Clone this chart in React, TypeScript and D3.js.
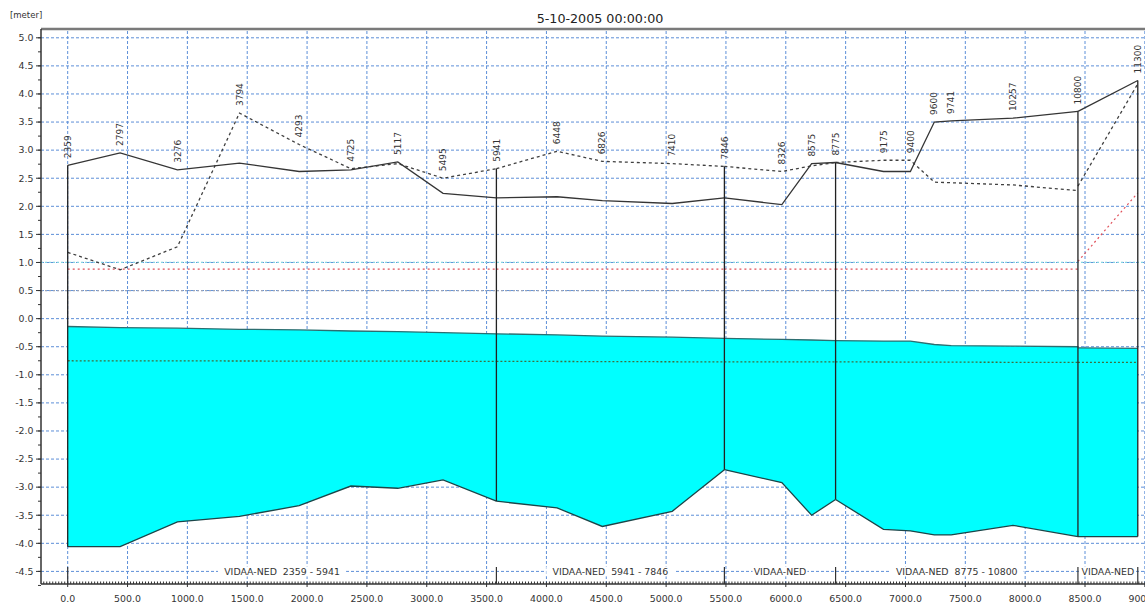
import React from 'react';
import * as d3 from 'd3';

// Longitudinal profile along VIDAA-NED, chainage in metres, levels in metres.
const titleText = '5-10-2005 00:00:00';
const unitText = '[meter]';

const branchName = ['VIDAA-NED', 'VIDAA-NED', 'VIDAA-NED', 'VIDAA-NED', 'VIDAA-NED'];
const branchFrom = [2359, 5941, 7846, 8775, 10800];
const branchTo = [5941, 7846, 8775, 10800, 11300];

// Stations per branch (boundary chainages repeated for each branch they belong to)
const stationChainage = [
  2359, 2797, 3276, 3794, 4293, 4725, 5117, 5495, 5941,
  5941, 6448, 6826, 7410, 7846,
  7846, 8326, 8575, 8775,
  8775, 9175, 9400, 9600, 9741, 10257, 10800,
  10800, 11300,
];
const stationBranch = [
  0, 0, 0, 0, 0, 0, 0, 0, 0,
  1, 1, 1, 1, 1,
  2, 2, 2, 2,
  3, 3, 3, 3, 3, 3, 3,
  4, 4,
];

// Solid black line (left bank)
const solidLevel = [
  2.73, 2.95, 2.65, 2.77, 2.62, 2.65, 2.79, 2.23, 2.15,
  2.15, 2.17, 2.10, 2.05, 2.15,
  2.15, 2.03, 2.76, 2.78,
  2.78, 2.62, 2.62, 3.50, 3.52, 3.57, 3.69,
  3.69, 4.24,
];
// Dashed black line (right bank)
const dashedLevel = [
  1.18, 0.87, 1.28, 3.66, 3.10, 2.67, 2.76, 2.50, 2.67,
  2.67, 2.98, 2.80, 2.76, 2.71,
  2.71, 2.62, 2.72, 2.78,
  2.78, 2.82, 2.82, 2.43, 2.42, 2.38, 2.28,
  2.36, 4.18,
];
// Red dotted line
const redLevel = [
  0.88, 0.88, 0.88, 0.88, 0.88, 0.88, 0.88, 0.88, 0.88,
  0.88, 0.88, 0.88, 0.88, 0.88,
  0.88, 0.88, 0.88, 0.88,
  0.88, 0.88, 0.88, 0.88, 0.88, 0.88, 0.88,
  1.02, 2.24,
];
// Water surface
const surfaceLevel = [
  -0.14, -0.16, -0.17, -0.19, -0.20, -0.22, -0.23, -0.25, -0.27,
  -0.27, -0.29, -0.31, -0.33, -0.35,
  -0.35, -0.37, -0.38, -0.39,
  -0.39, -0.40, -0.40, -0.46, -0.48, -0.49, -0.50,
  -0.52, -0.53,
];
// River bed
const bedLevel = [
  -4.06, -4.06, -3.62, -3.52, -3.33, -2.98, -3.02, -2.87, -3.25,
  -3.25, -3.37, -3.70, -3.43, -2.69,
  -2.69, -2.92, -3.50, -3.22,
  -3.22, -3.75, -3.78, -3.85, -3.85, -3.68, -3.88,
  -3.88, -3.88,
];

// Green dotted reference level, start and end of each branch
const greenLevelStart = [-0.75, -0.76, -0.77, -0.77, -0.78];
const greenLevelEnd = [-0.76, -0.77, -0.77, -0.78, -0.78];
const cyanRefLevel = 1.0;
const grayRefLevel = 0.5;

const xTickValues = [0, 500, 1000, 1500, 2000, 2500, 3000, 3500, 4000, 4500, 5000, 5500, 6000, 6500, 7000, 7500, 8000, 8500, 9000];
const yTickValues = [-4.5, -4.0, -3.5, -3.0, -2.5, -2.0, -1.5, -1.0, -0.5, 0.0, 0.5, 1.0, 1.5, 2.0, 2.5, 3.0, 3.5, 4.0, 4.5, 5.0];

const W = 1145;
const H = 605;
const plotLeft = 41;
const plotTop = 29;
const plotBottom = 584;
const plotRight = 1160;
const FONT = 'DejaVu Sans, sans-serif';

type Station = {
  ch: number;
  b: number;
  dist: number;
  solid: number;
  dashed: number;
  red: number;
  surface: number;
  bed: number;
};

export default function App() {
  const x = d3.scaleLinear().domain([0, 8500]).range([67.7, 1085]);
  const y = d3.scaleLinear().domain([-4.5, 5.0]).range([571.4, 37.8]);

  const branchOffset: number[] = [];
  let acc = 0;
  branchFrom.forEach((f, i) => {
    branchOffset.push(acc);
    acc += branchTo[i] - f;
  });

  const stations: Station[] = stationChainage.map((ch, i) => {
    const b = stationBranch[i];
    return {
      ch,
      b,
      dist: branchOffset[b] + ch - branchFrom[b],
      solid: solidLevel[i],
      dashed: dashedLevel[i],
      red: redLevel[i],
      surface: surfaceLevel[i],
      bed: bedLevel[i],
    };
  });

  const byBranch = branchFrom.map((_, b) => stations.filter((s) => s.b === b));

  const lineOf = (key: 'solid' | 'dashed' | 'red') =>
    d3.line<Station>().x((d) => x(d.dist)).y((d) => y(d[key]));
  const area = d3
    .area<Station>()
    .x((d) => x(d.dist))
    .y0((d) => y(d.bed))
    .y1((d) => y(d.surface));
  const surfLine = d3.line<Station>().x((d) => x(d.dist)).y((d) => y(d.surface));
  const bedLine = d3.line<Station>().x((d) => x(d.dist)).y((d) => y(d.bed));

  // unique chainage labels
  const labelStations = stations.filter((s, i) => i === 0 || stationChainage[i - 1] !== s.ch);

  // branch boundaries (distance)
  const boundaries = [0, ...branchFrom.map((f, i) => branchOffset[i] + branchTo[i] - f)];
  const boundaryTop = boundaries.map((d) => {
    const ss = stations.filter((s) => Math.abs(s.dist - d) < 0.5);
    return {
      top: d3.max(ss, (s) => Math.max(s.solid, s.dashed)) as number,
      bed: d3.min(ss, (s) => s.bed) as number,
    };
  });

  const xMinor = d3.range(-200, 9200, 25);
  const yMinor = d3.range(-4.75, 5.1, 0.25);

  const tickFont = 9.4;

  return (
    <svg
      width={W}
      height={H}
      style={{ position: 'absolute', left: 0, top: 0, background: '#fff' }}
      fontFamily={FONT}
    >
      <rect x={0} y={0} width={W} height={H} fill="#fff" />

      {/* grid */}
      <g stroke="#5d8fd8" strokeWidth={1} strokeDasharray="3,2">
        {xTickValues.map((v) => (
          <line key={'gx' + v} x1={x(v)} x2={x(v)} y1={plotTop + 2} y2={plotBottom} />
        ))}
        {yTickValues.map((v) => (
          <line key={'gy' + v} x1={plotLeft} x2={plotRight} y1={y(v)} y2={y(v)} />
        ))}
      </g>

      {/* reference levels */}
      <line x1={plotLeft} x2={plotRight} y1={y(cyanRefLevel)} y2={y(cyanRefLevel)} stroke="#86d6e2" strokeWidth={1.2} strokeDasharray="2,2" />
      <line x1={plotLeft} x2={plotRight} y1={y(grayRefLevel)} y2={y(grayRefLevel)} stroke="#9aa3b8" strokeWidth={1.2} strokeDasharray="2,2" />

      {/* water body */}
      {byBranch.map((ss, b) => (
        <g key={'w' + b}>
          <path d={area(ss) || ''} fill="#00ffff" />
          <path d={surfLine(ss) || ''} fill="none" stroke="#2c6e70" strokeWidth={1.3} />
          <path d={bedLine(ss) || ''} fill="none" stroke="#1c4548" strokeWidth={1.3} />
        </g>
      ))}

      {/* green dotted level */}
      {byBranch.map((ss, b) => (
        <line
          key={'g' + b}
          x1={x(ss[0].dist)}
          x2={x(ss[ss.length - 1].dist)}
          y1={y(greenLevelStart[b])}
          y2={y(greenLevelEnd[b])}
          stroke="#3d7040"
          strokeWidth={1.3}
          strokeDasharray="2,2"
        />
      ))}

      {/* red dotted */}
      {byBranch.map((ss, b) => (
        <path key={'r' + b} d={lineOf('red')(ss) || ''} fill="none" stroke="#e0505a" strokeWidth={1.2} strokeDasharray="2,3" />
      ))}

      {/* banks */}
      {byBranch.map((ss, b) => (
        <path key={'d' + b} d={lineOf('dashed')(ss) || ''} fill="none" stroke="#404040" strokeWidth={1.3} strokeDasharray="3,3" />
      ))}
      {byBranch.map((ss, b) => (
        <path key={'s' + b} d={lineOf('solid')(ss) || ''} fill="none" stroke="#353535" strokeWidth={1.3} />
      ))}

      {/* branch boundary verticals */}
      {boundaries.map((d, i) => (
        <line key={'v' + i} x1={x(d)} x2={x(d)} y1={y(boundaryTop[i].top)} y2={y(boundaryTop[i].bed)} stroke="#222" strokeWidth={1.3} />
      ))}

      {/* chainage labels */}
      {labelStations.map((s, i) => {
        const top = Math.max(
          ...stations.filter((t) => t.ch === s.ch).map((t) => Math.max(t.solid, t.dashed))
        );
        return (
          <text
            key={'c' + i}
            transform={`translate(${x(s.dist)},${y(top) - 7}) rotate(-90)`}
            dy="0.35em"
            fontSize={9}
            fill="#333"
          >
            {String(s.ch)}
          </text>
        );
      })}

      {/* frame */}
      <line x1={plotLeft} x2={plotRight} y1={plotTop} y2={plotTop} stroke="#7a7a7a" strokeWidth={2.5} />
      <line x1={plotLeft} x2={plotLeft} y1={plotTop} y2={plotBottom} stroke="#333" strokeWidth={1.5} />
      <line x1={plotLeft} x2={plotRight} y1={plotBottom} y2={plotBottom} stroke="#333" strokeWidth={1.5} />

      {/* y ticks */}
      {yMinor.map((v, i) => (
        <line key={'ym' + i} x1={plotLeft - 3} x2={plotLeft} y1={y(v)} y2={y(v)} stroke="#333" strokeWidth={1} />
      ))}
      {yTickValues.map((v) => (
        <g key={'yt' + v}>
          <line x1={plotLeft - 5} x2={plotLeft} y1={y(v)} y2={y(v)} stroke="#333" strokeWidth={1} />
          <text x={33.5} y={y(v)} dy="0.35em" textAnchor="end" fontSize={tickFont} fill="#333">
            {v.toFixed(1)}
          </text>
        </g>
      ))}

      {/* x ticks */}
      {xMinor.filter((v) => x(v) > plotLeft).map((v, i) => (
        <line key={'xm' + i} x1={x(v)} x2={x(v)} y1={plotBottom - 2.5} y2={plotBottom} stroke="#333" strokeWidth={1} />
      ))}
      {xTickValues.map((v) => (
        <g key={'xt' + v}>
          <line x1={x(v)} x2={x(v)} y1={plotBottom} y2={plotBottom + 3} stroke="#333" strokeWidth={1} />
          <text x={x(v)} y={602} textAnchor="middle" fontSize={tickFont} fill="#333">
            {v.toFixed(1)}
          </text>
        </g>
      ))}

      {/* branch labels */}
      {boundaries.map((d, i) => (
        <line key={'bt' + i} x1={x(d)} x2={x(d)} y1={567} y2={plotBottom} stroke="#333" strokeWidth={1.2} />
      ))}
      {branchFrom.map((f, i) => {
        const x0 = x(boundaries[i]);
        const x1 = x(boundaries[i + 1]);
        const full = `${branchName[i]}  ${f} - ${branchTo[i]}`;
        const est = (t: string) => t.length * tickFont * 0.6;
        const txt = est(full) < x1 - x0 - 8 ? full : branchName[i];
        const w = est(txt) + 4;
        const cx = (x0 + x1) / 2;
        return (
          <g key={'bl' + i}>
            <rect x={cx - w / 2} y={y(-4.5) - 5} width={w} height={10} fill="#fff" />
            <text x={cx} y={y(-4.5)} dy="0.35em" textAnchor="middle" fontSize={tickFont} fill="#333" style={{ whiteSpace: 'pre' }}>
              {txt}
            </text>
          </g>
        );
      })}

      {/* titles */}
      <text x={600} y={23} textAnchor="middle" fontSize={12.7} fill="#222">
        {titleText}
      </text>
      <text x={10} y={18} fontSize={8.5} fill="#333">
        {unitText}
      </text>
    </svg>
  );
}
